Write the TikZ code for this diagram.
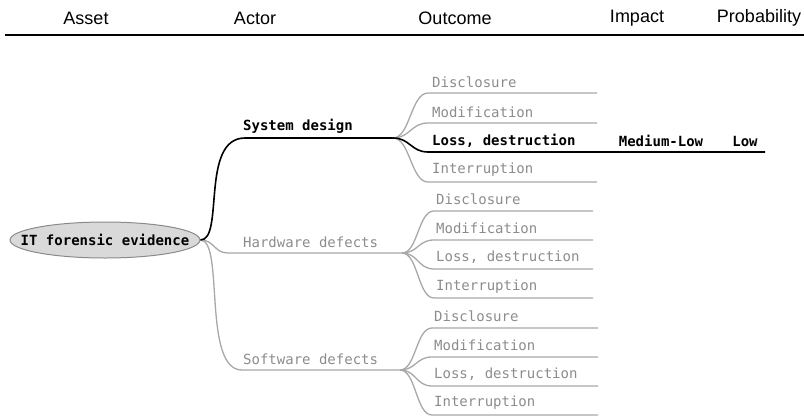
\documentclass[tikz,border=0pt]{standalone}
\usepackage{fontspec}
\setmainfont{Liberation Sans}
\newfontfamily\pix{DejaVu Sans Mono}
\usetikzlibrary{shapes.geometric}
\definecolor{gtxt}{HTML}{8C8C8C}
\definecolor{gline}{HTML}{A8A8A8}
\definecolor{efill}{HTML}{D9D9D9}
\definecolor{edraw}{HTML}{8A8A8A}
\tikzset{
  hdr/.style={font=\fontsize{18}{21}\selectfont, inner sep=0pt},
  pixg/.style={font=\pix\fontsize{14}{16}\selectfont, text=gtxt, inner sep=0pt},
  pixb/.style={font=\pix\bfseries\fontsize{14}{16}\selectfont, text=black, inner sep=0pt},
  gedge/.style={draw=gline, line width=1.3pt},
  bedge/.style={draw=black, line width=1.6pt},
  rootnode/.style={ellipse, draw=edraw, fill=efill, line width=1pt, minimum width=190pt, minimum height=36pt, inner sep=0pt, font=\pix\bfseries\fontsize{14}{16}\selectfont}
}
\begin{document}
\begin{tikzpicture}[x=1pt,y=-1pt]
\useasboundingbox (0,0) rectangle (804,416);
% header
\node[hdr] (hA) at (86,18) {Asset};
\node[hdr] (hB) at (255,18) {Actor};
\node[hdr] (hC) at (455,18) {Outcome};
\node[hdr] (hD) at (637,18) {Impact};
\node[hdr] (hE) at (759,18) {Probability};
\coordinate (rl) at (5,35);
\coordinate (rr) at (804,35);
\draw[line width=2.2pt] (rl) -- (rr);
% root
\node[rootnode] (root) at (105,240) {\makebox[0pt]{IT forensic evidence}};
% actors
\coordinate (sdA) at (245,138); \coordinate (sdB) at (393,138);
\coordinate (hwA) at (228,253); \coordinate (hwB) at (402,253);
\coordinate (swA) at (242,370); \coordinate (swB) at (400,370);
\node[pixb, anchor=west] (sdt) at (243,126) {System design};
\node[pixg, anchor=west] (hwt) at (243,242) {Hardware defects};
\node[pixg, anchor=west] (swt) at (243,359) {Software defects};
% outcome line coordinates
\coordinate (a1) at (428,93);  \coordinate (a1e) at (597,93);
\coordinate (a2) at (428,123); \coordinate (a2e) at (597,123);
\coordinate (a3) at (428,152); \coordinate (a3e) at (765,152);
\coordinate (a4) at (428,182); \coordinate (a4e) at (597,182);
\coordinate (b1) at (434,211); \coordinate (b1e) at (593,211);
\coordinate (b2) at (434,240); \coordinate (b2e) at (593,240);
\coordinate (b3) at (434,269); \coordinate (b3e) at (593,269);
\coordinate (b4) at (434,298); \coordinate (b4e) at (593,298);
\coordinate (c1) at (432,328); \coordinate (c1e) at (598,328);
\coordinate (c2) at (432,357); \coordinate (c2e) at (598,357);
\coordinate (c3) at (432,386); \coordinate (c3e) at (598,386);
\coordinate (c4) at (432,415); \coordinate (c4e) at (598,415);
% outcome texts
\node[pixg, anchor=west] (a1t) at (432,82) {Disclosure};
\node[pixg, anchor=west] (a2t) at (432,112) {Modification};
\node[pixb, anchor=west] (a3t) at (432,141) {Loss, destruction};
\node[pixg, anchor=west] (a4t) at (432,170) {Interruption};
\node[pixg, anchor=west] (b1t) at (436,199) {Disclosure};
\node[pixg, anchor=west] (b2t) at (436,228) {Modification};
\node[pixg, anchor=west] (b3t) at (436,257) {Loss, destruction};
\node[pixg, anchor=west] (b4t) at (436,287) {Interruption};
\node[pixg, anchor=west] (c1t) at (434,316) {Disclosure};
\node[pixg, anchor=west] (c2t) at (434,345) {Modification};
\node[pixg, anchor=west] (c3t) at (434,374) {Loss, destruction};
\node[pixg, anchor=west] (c4t) at (434,403) {Interruption};
\node[pixb] (imp) at (661,141) {Medium-Low};
\node[pixb] (prob) at (745,141) {Low};
% edges root -> actors
\draw[gedge] (root.east) .. controls +(14,0) and +(-14,0) .. (hwA) -- (hwB);
\draw[gedge] (root.east) .. controls +(24,0) and +(-40,0) .. (swA) -- (swB);
\draw[bedge] (root.east) .. controls +(24,0) and +(-45,0) .. (sdA) -- (sdB);
% system design outcomes
\foreach \p/\q in {a1/a1e, a2/a2e, a4/a4e} {
  \draw[gedge] (sdB) .. controls +(17,0) and +(-17,0) .. (\p) -- (\q);
}
\draw[bedge] (sdB) .. controls +(17,0) and +(-17,0) .. (a3) -- (a3e);
% hardware outcomes
\foreach \p/\q in {b1/b1e, b2/b2e, b3/b3e, b4/b4e} {
  \draw[gedge] (hwB) .. controls +(16,0) and +(-16,0) .. (\p) -- (\q);
}
% software outcomes
\foreach \p/\q in {c1/c1e, c2/c2e, c3/c3e, c4/c4e} {
  \draw[gedge] (swB) .. controls +(16,0) and +(-16,0) .. (\p) -- (\q);
}
\end{tikzpicture}
\end{document}
